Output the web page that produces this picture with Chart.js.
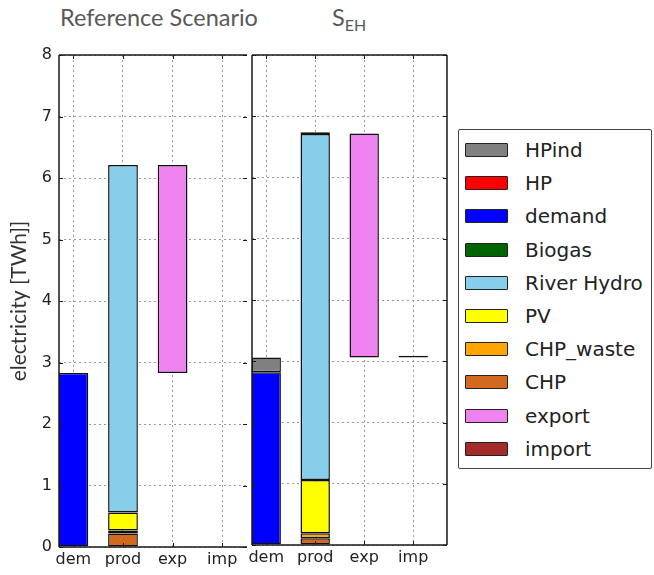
<!DOCTYPE html>
<html>
<head>
<meta charset="utf-8">
<script src="https://cdn.jsdelivr.net/npm/chart.js@4.4.0/dist/chart.umd.min.js"></script>
<style>
  body { margin: 0; background: #fff; width: 654px; height: 575px; position: relative; overflow: hidden; font-family: "DejaVu Sans", sans-serif; }
  canvas { position: absolute; top: 0; }
  #cRef { left: 0; }
  #cSeh { left: 230px; }
  .title { position: absolute; top: 6px; font-family: Lato, sans-serif; font-size: 23.5px; line-height: 23px; color: #595959; white-space: nowrap; }
  .title sub { font-size: 16px; vertical-align: -5px; line-height: 0; }
  #legend { position: absolute; left: 458px; top: 129px; width: 194px; height: 340px; border: 1px solid #444; border-radius: 2px; box-sizing: border-box; }
  .row { position: absolute; left: 6px; height: 32px; display: flex; align-items: center; }
  .sw { width: 43px; height: 14px; border: 1.5px solid #222; box-sizing: border-box; border-radius: 1px; }
  .lab { margin-left: 17px; font-size: 20px; color: #222; }
</style>
</head>
<body>
<div class="title" style="left:60px">Reference Scenario</div>
<div class="title" style="left:332px">S<sub>EH</sub></div>
<canvas id="cRef" width="250" height="575"></canvas>
<canvas id="cSeh" width="220" height="575"></canvas>
<div id="legend"></div>

<script>
/* ---- Dados ---- */
const categories = ['dem', 'prod', 'exp', 'imp'];
const yTicks = [0, 1, 2, 3, 4, 5, 6, 7, 8];

// legenda (ordem do quadro)
const seriesNames  = ['HPind', 'HP', 'demand', 'Biogas', 'River Hydro', 'PV', 'CHP_waste', 'CHP', 'export', 'import'];
const seriesColors = ['#808080', '#ff0000', '#0000ff', '#006400', '#87ceeb', '#ffff00', '#ffa500', '#d2691e', '#ee82ee', '#a52a2a'];
// ordem de empilhamento (de baixo para cima)
const stackOrder = ['CHP', 'CHP_waste', 'PV', 'River Hydro', 'Biogas', 'demand', 'HP', 'HPind', 'export', 'import'];

// Reference Scenario  [dem, prod, exp, imp]
const refOffset    = [0, 0, 2.83, 0];
const refCHP       = [0, 0.22, 0, 0];
const refCHPwaste  = [0, 0.05, 0, 0];
const refPV        = [0, 0.29, 0, 0];
const refHydro     = [0, 5.65, 0, 0];
const refBiogas    = [0, 0, 0, 0];
const refDemand    = [2.83, 0, 0, 0];
const refHP        = [0, 0, 0, 0];
const refHPind     = [0, 0, 0, 0];
const refExport    = [0, 0, 3.38, 0];
const refImport    = [0, 0, 0, 0];

// S_EH  [dem, prod, exp, imp]
const sehOffset    = [0, 0, 3.06, 3.06];
const sehCHP       = [0, 0.11, 0, 0];
const sehCHPwaste  = [0, 0.08, 0, 0];
const sehPV        = [0, 0.87, 0, 0];
const sehHydro     = [0, 5.65, 0, 0];
const sehBiogas    = [0, 0.03, 0, 0];
const sehDemand    = [2.82, 0, 0, 0];
const sehHP        = [0, 0, 0, 0];
const sehHPind     = [0.24, 0, 0, 0];
const sehExport    = [0, 0, 3.66, 0];
const sehImport    = [0, 0, 0, 0.03];

const refValues = {
  'CHP': refCHP, 'CHP_waste': refCHPwaste, 'PV': refPV, 'River Hydro': refHydro, 'Biogas': refBiogas,
  'demand': refDemand, 'HP': refHP, 'HPind': refHPind, 'export': refExport, 'import': refImport
};
const sehValues = {
  'CHP': sehCHP, 'CHP_waste': sehCHPwaste, 'PV': sehPV, 'River Hydro': sehHydro, 'Biogas': sehBiogas,
  'demand': sehDemand, 'HP': sehHP, 'HPind': sehHPind, 'export': sehExport, 'import': sehImport
};

const colorOf = name => seriesColors[seriesNames.indexOf(name)];

/* ---- Moldura + ticks para dentro (estilo matplotlib) ---- */
const framePlugin = {
  id: 'frame',
  afterDraw(chart, args, opts) {
    const { ctx, chartArea: a, scales: { x, y } } = chart;
    ctx.save();
    ctx.strokeStyle = '#1a1a1a';
    ctx.lineWidth = 1.5;
    ctx.beginPath();
    ctx.moveTo(a.left, a.top);    ctx.lineTo(a.right, a.top);
    ctx.moveTo(a.left, a.top);    ctx.lineTo(a.left, a.bottom);
    ctx.moveTo(a.left, a.bottom); ctx.lineTo(a.right, a.bottom);
    if (opts.rightSpine) { ctx.moveTo(a.right, a.top); ctx.lineTo(a.right, a.bottom); }
    ctx.stroke();

    ctx.lineWidth = 1;
    ctx.beginPath();
    y.ticks.forEach(t => {
      const py = Math.round(y.getPixelForValue(t.value)) + 0.5;
      ctx.moveTo(a.left, py);  ctx.lineTo(a.left + 4, py);
      ctx.moveTo(a.right - 4, py); ctx.lineTo(a.right, py);
    });
    x.ticks.forEach(t => {
      const px = Math.round(x.getPixelForValue(t.value)) + 0.5;
      ctx.moveTo(px, a.bottom); ctx.lineTo(px, a.bottom - 4);
      ctx.moveTo(px, a.top);    ctx.lineTo(px, a.top + 4);
    });
    ctx.stroke();
    ctx.restore();
  }
};

function buildDatasets(offset, values) {
  const sets = [{
    label: 'offset',
    data: offset.map(v => v || null),
    backgroundColor: 'rgba(0,0,0,0)',
    borderWidth: 0
  }];
  stackOrder.forEach(name => {
    sets.push({
      label: name,
      data: values[name].map(v => v || null),
      backgroundColor: colorOf(name),
      borderColor: '#111',
      borderWidth: 1.5,
      borderSkipped: false
    });
  });
  return sets;
}

function renderPanel(canvasId, offset, values, cfg) {
  const tickFont = { family: 'DejaVu Sans', size: 16 };
  return new Chart(document.getElementById(canvasId).getContext('2d'), {
    type: 'bar',
    data: { labels: categories.map((c, i) => i), datasets: buildDatasets(offset, values) },
    plugins: [framePlugin],
    options: {
      responsive: false,
      animation: false,
      layout: { padding: { left: cfg.padLeft, right: 3, top: 55, bottom: 0 } },
      datasets: { bar: { barPercentage: 0.6, categoryPercentage: 1 } },
      plugins: {
        legend: { display: false },
        tooltip: { enabled: false },
        frame: { rightSpine: cfg.rightSpine }
      },
      scales: {
        x: {
          type: 'linear',
          stacked: true,
          offset: false,
          min: -0.29,
          max: cfg.xMax,
          z: 1,
          afterBuildTicks: s => { s.ticks = categories.map((c, i) => ({ value: i })); },
          afterFit: s => { s.height = cfg.xHeight; },
          ticks: { callback: v => categories[v], font: tickFont, color: '#222', padding: 3, autoSkip: false, maxRotation: 0 },
          grid: { color: '#9a9a9a', lineWidth: 1, drawTicks: false, offset: false },
          border: { display: false, dash: [2, 3] }
        },
        y: {
          stacked: true,
          min: 0,
          max: 8,
          z: 1,
          afterBuildTicks: s => { s.ticks = yTicks.map(v => ({ value: v })); },
          afterFit: s => { s.width = cfg.yWidth; },
          ticks: { display: cfg.showY, font: tickFont, color: '#222', padding: 7 },
          grid: { color: '#9a9a9a', lineWidth: 1, drawTicks: false },
          border: { display: false, dash: [2, 3] },
          title: {
            display: cfg.showY,
            text: 'electricity [TWh]]',
            font: { family: 'Lato', size: 21 },
            color: '#333',
            padding: { top: 7, bottom: 0 }
          }
        }
      }
    }
  });
}

renderPanel('cRef', refOffset, refValues, { padLeft: 0, yWidth: 59, xHeight: 28, xMax: 3.5, showY: true, rightSpine: false });
renderPanel('cSeh', sehOffset, sehValues, { padLeft: 22, yWidth: 0, xHeight: 30, xMax: 3.69, showY: false, rightSpine: true });

/* ---- Legenda ---- */
const legendEl = document.getElementById('legend');
legendEl.innerHTML = seriesNames.map((name, i) => `
  <div class="row" style="top:${(4 + i * 33.2).toFixed(1)}px">
    <span class="sw" style="background:${seriesColors[i]}"></span>
    <span class="lab">${name}</span>
  </div>`).join('');
</script>
</body>
</html>
